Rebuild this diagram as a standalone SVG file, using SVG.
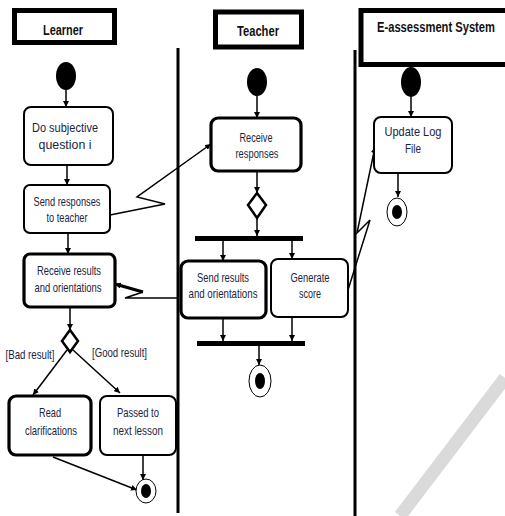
<svg xmlns="http://www.w3.org/2000/svg" width="505" height="516" viewBox="0 0 505 516">
<style>
.hdr{fill:#fff;stroke:#000;stroke-width:5}
.ht{font-family:"Liberation Sans",Arial,sans-serif;font-size:14px;font-weight:bold;fill:#111;text-anchor:middle}
.n{fill:#fff;stroke:#000;stroke-width:2}
.nk{fill:#fff;stroke:#000;stroke-width:3.2}
.t{font-family:"Liberation Sans",Arial,sans-serif;font-size:13px;fill:#1c2540;text-anchor:middle}
.lane{stroke:#000;stroke-width:3;fill:none}
.c{stroke:#000;stroke-width:1.5;fill:none}
.bar{fill:#000}
.dia{fill:#fff;stroke:#000;stroke-width:2.5}
</style>
<defs>
<marker id="ah" viewBox="0 0 10 10" refX="10" refY="5" markerWidth="6" markerHeight="6" markerUnits="userSpaceOnUse" orient="auto">
<path d="M0,0 L10,5 L0,10 z" fill="#000"/>
</marker>
</defs>
<rect width="505" height="516" fill="#fff"/>
<line x1="400" y1="516" x2="505" y2="378" stroke="#dadada" stroke-width="13"/>

<g id="lanes">
<line class="lane" x1="178" y1="48" x2="178" y2="513"/>
<line class="lane" x1="355" y1="50" x2="355" y2="516"/>
</g>

<g id="hdr-learner">
<rect class="hdr" x="14.5" y="10.5" width="100" height="32"/>
<text class="ht" x="63" y="35" textLength="40" lengthAdjust="spacingAndGlyphs">Learner</text>
</g>
<g id="hdr-teacher">
<rect class="hdr" x="215.5" y="12" width="86" height="35"/>
<text class="ht" x="258" y="36" textLength="42" lengthAdjust="spacingAndGlyphs">Teacher</text>
</g>
<g id="hdr-eas">
<rect class="hdr" x="361" y="10.5" width="150" height="54" stroke-width="6"/>
<text class="ht" x="436" y="32" textLength="118" lengthAdjust="spacingAndGlyphs">E-assessment System</text>
</g>

<g id="connectors">
<line class="c" x1="66" y1="90" x2="66" y2="107" marker-end="url(#ah)"/>
<line class="c" x1="67" y1="165" x2="67" y2="185" marker-end="url(#ah)"/>
<line class="c" x1="68" y1="233" x2="68" y2="254" marker-end="url(#ah)"/>
<line class="c" x1="70" y1="307" x2="70" y2="330" marker-end="url(#ah)"/>
<line class="c" x1="67" y1="350" x2="33" y2="395" marker-end="url(#ah)"/>
<line class="c" x1="73" y1="350" x2="120" y2="393" marker-end="url(#ah)"/>
<line class="c" x1="143" y1="456" x2="143" y2="480" marker-end="url(#ah)"/>
<line class="c" x1="53" y1="457" x2="137" y2="490" marker-end="url(#ah)"/>
<polyline class="c" points="110,215 165,204 137,197 211,144" marker-end="url(#ah)"/>
<polyline class="c" points="178,298 125,298 143,292"/>
<line x1="143" y1="292" x2="115" y2="284" stroke="#000" stroke-width="3" marker-end="url(#ah)"/>
<polyline class="c" points="348,290 370,220 357,233 375,147" marker-end="url(#ah)"/>
<line class="c" x1="257" y1="96" x2="257" y2="118" marker-end="url(#ah)"/>
<line class="c" x1="257" y1="171" x2="257" y2="193" marker-end="url(#ah)"/>
<line class="c" x1="257" y1="218" x2="257" y2="236" marker-end="url(#ah)"/>
<line class="c" x1="223" y1="240" x2="223" y2="261" marker-end="url(#ah)"/>
<line class="c" x1="292" y1="240" x2="292" y2="259" marker-end="url(#ah)"/>
<line class="c" x1="223" y1="318" x2="223" y2="341" marker-end="url(#ah)"/>
<line class="c" x1="292" y1="317" x2="292" y2="341" marker-end="url(#ah)"/>
<line class="c" x1="259" y1="345" x2="259" y2="365" marker-end="url(#ah)"/>
<line class="c" x1="411" y1="96" x2="411" y2="117" marker-end="url(#ah)"/>
<line class="c" x1="398" y1="173" x2="398" y2="197" marker-end="url(#ah)"/>
</g>

<g id="start-learner"><ellipse cx="66" cy="76" rx="10" ry="14" fill="#000"/></g>
<g id="start-teacher"><ellipse cx="257" cy="82" rx="10" ry="14" fill="#000"/></g>
<g id="start-eas"><ellipse cx="411" cy="82" rx="10" ry="15" fill="#000"/></g>

<g id="do-subjective">
<rect class="n" x="24" y="107" width="89" height="58" rx="7"/>
<text class="t" x="65" y="131.5" textLength="66" lengthAdjust="spacingAndGlyphs">Do subjective</text>
<text class="t" x="65" y="148.5" textLength="53" lengthAdjust="spacingAndGlyphs">question i</text>
</g>
<g id="send-responses">
<rect class="n" x="24" y="185" width="86" height="48" rx="6"/>
<text class="t" x="67" y="205.5" textLength="67" lengthAdjust="spacingAndGlyphs">Send responses</text>
<text class="t" x="67" y="221.5" textLength="41" lengthAdjust="spacingAndGlyphs">to teacher</text>
</g>
<g id="receive-results">
<rect class="nk" x="24" y="254" width="91" height="53" rx="6"/>
<text class="t" x="69" y="274.5" textLength="64" lengthAdjust="spacingAndGlyphs">Receive results</text>
<text class="t" x="68" y="291.5" textLength="67" lengthAdjust="spacingAndGlyphs">and orientations</text>
</g>
<g id="decision-learner">
<polygon class="dia" points="70,330 78,341 70,352 62,341"/>
<text class="t" x="30" y="359" textLength="49" lengthAdjust="spacingAndGlyphs">[Bad result]</text>
<text class="t" x="119.5" y="357" textLength="55" lengthAdjust="spacingAndGlyphs">[Good result]</text>
</g>
<g id="read-clarifications">
<rect class="nk" x="9" y="396" width="82" height="59" rx="7"/>
<text class="t" x="50" y="416.5" textLength="22" lengthAdjust="spacingAndGlyphs">Read</text>
<text class="t" x="51" y="434.5" textLength="52" lengthAdjust="spacingAndGlyphs">clarifications</text>
</g>
<g id="passed-next">
<rect class="n" x="100" y="396" width="76" height="59" rx="7" stroke-width="2.5"/>
<text class="t" x="138" y="416.5" textLength="42" lengthAdjust="spacingAndGlyphs">Passed to</text>
<text class="t" x="138" y="434.5" textLength="50" lengthAdjust="spacingAndGlyphs">next lesson</text>
</g>
<g id="end-learner">
<ellipse cx="146" cy="491" rx="10" ry="12" fill="#fff" stroke="#000" stroke-width="1"/>
<ellipse cx="146" cy="491" rx="5" ry="7" fill="#000"/>
</g>

<g id="receive-responses">
<rect class="nk" x="211" y="118" width="90" height="53" rx="7"/>
<text class="t" x="256" y="141.5" textLength="33" lengthAdjust="spacingAndGlyphs">Receive</text>
<text class="t" x="257" y="157.5" textLength="43" lengthAdjust="spacingAndGlyphs">responses</text>
</g>
<g id="decision-teacher">
<polygon class="dia" points="257,193 266,205 257,218 248,205"/>
</g>
<g id="fork-bar"><rect class="bar" x="195" y="236" width="108" height="5"/></g>
<g id="send-results">
<rect class="nk" x="181" y="261" width="85" height="57" rx="7"/>
<text class="t" x="223" y="281.5" textLength="52" lengthAdjust="spacingAndGlyphs">Send results</text>
<text class="t" x="223" y="297.5" textLength="69" lengthAdjust="spacingAndGlyphs">and orientations</text>
</g>
<g id="generate-score">
<rect class="n" x="271" y="259" width="77" height="58" rx="7" stroke-width="1.8"/>
<text class="t" x="310" y="281.5" textLength="39" lengthAdjust="spacingAndGlyphs">Generate</text>
<text class="t" x="310" y="297.5" textLength="22" lengthAdjust="spacingAndGlyphs">score</text>
</g>
<g id="join-bar"><rect class="bar" x="197" y="341" width="108" height="5"/></g>
<g id="end-teacher">
<ellipse cx="260" cy="381" rx="11" ry="16" fill="#fff" stroke="#000" stroke-width="1"/>
<ellipse cx="260" cy="381" rx="5" ry="8" fill="#000"/>
</g>

<g id="update-log">
<rect class="n" x="374" y="117" width="78" height="56" rx="7"/>
<text class="t" x="413" y="135.5" textLength="57" lengthAdjust="spacingAndGlyphs">Update Log</text>
<text class="t" x="413" y="152.5" textLength="16" lengthAdjust="spacingAndGlyphs">File</text>
</g>
<g id="end-eas">
<ellipse cx="397" cy="212" rx="10" ry="14" fill="#fff" stroke="#000" stroke-width="1"/>
<ellipse cx="397" cy="212" rx="5" ry="7" fill="#000"/>
</g>
</svg>
